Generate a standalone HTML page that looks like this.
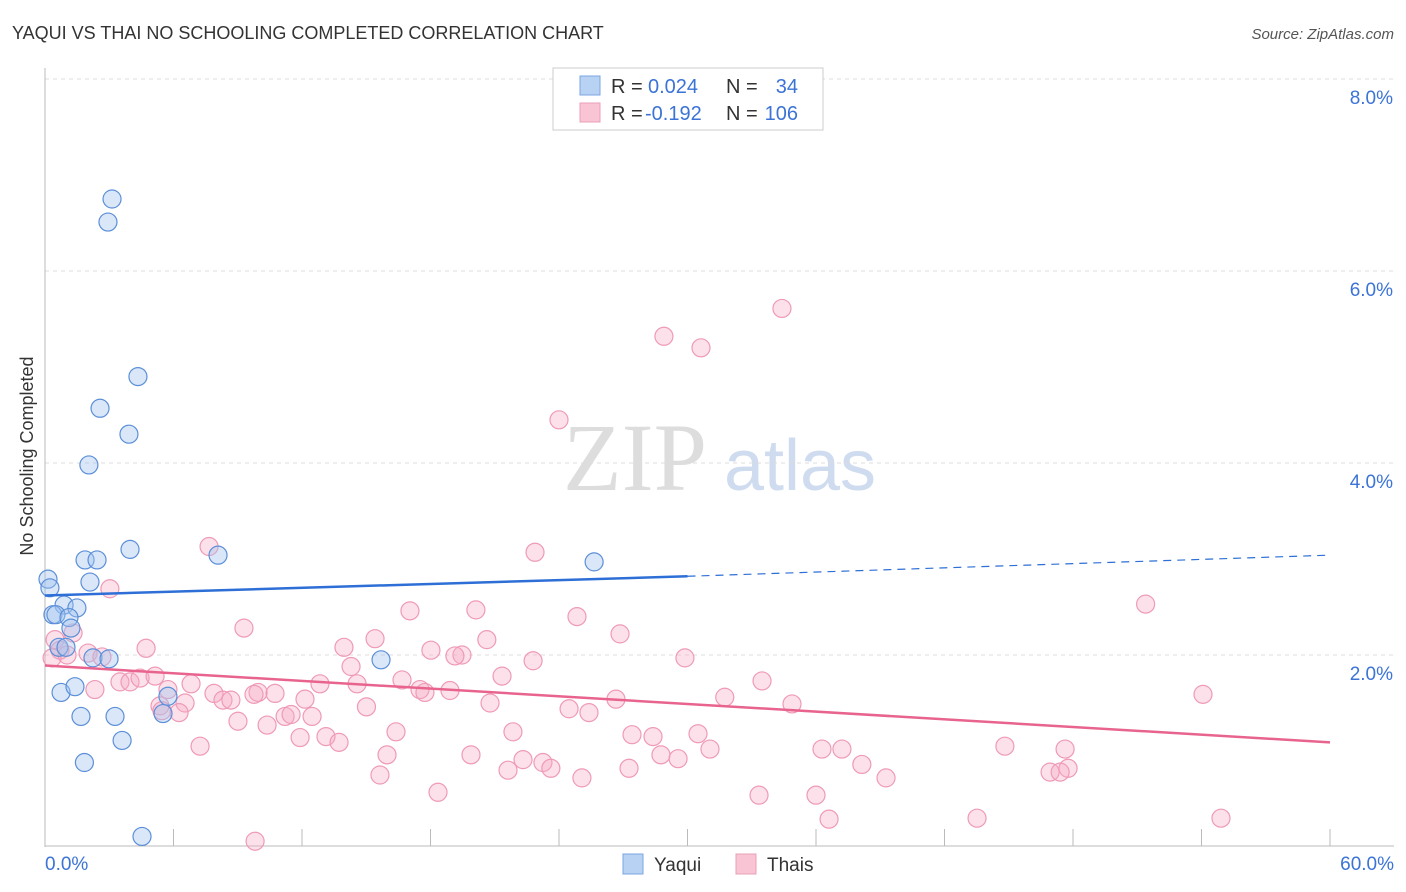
<!DOCTYPE html>
<html><head><meta charset="utf-8">
<style>
body{margin:0;background:#fff;font-family:"Liberation Sans",sans-serif;}
#wrap{position:relative;width:1406px;height:892px;overflow:hidden;}
</style></head>
<body>
<div id="wrap">
<svg id="svg" width="1406" height="892" xmlns="http://www.w3.org/2000/svg">
<text x="12" y="39" font-size="18" fill="#333">YAQUI VS THAI NO SCHOOLING COMPLETED CORRELATION CHART</text>
<text x="1394" y="39" font-size="15" fill="#555" font-style="italic" text-anchor="end">Source: ZipAtlas.com</text>
<text x="33" y="456" font-size="18" fill="#333" text-anchor="middle" transform="rotate(-90 33 456)">No Schooling Completed</text>
<g>
<text x="635" y="490" font-size="96" fill="#ddd" font-family="Liberation Serif,serif" text-anchor="middle">ZIP</text>
<text x="800" y="490" font-size="72" fill="#cfdcf0" text-anchor="middle">atlas</text>
</g>
<g id="grid"></g>
<g id="marks"></g>
<g>
<rect x="553" y="68" width="270" height="62" fill="#fff" stroke="#ccc"/>
<rect x="580" y="76" width="20" height="19" fill="#b8d2f4" stroke="#7aa6e0"/>
<rect x="580" y="103" width="20" height="19" fill="#f9c4d4" stroke="#eba0b8"/>
<text x="611" y="93" font-size="20" fill="#333">R =</text>
<text x="648" y="93" font-size="20" fill="#3b73d6">0.024</text>
<text x="726" y="93" font-size="20" fill="#333">N =</text>
<text x="798" y="93" font-size="20" fill="#3b73d6" text-anchor="end">34</text>
<text x="611" y="120" font-size="20" fill="#333">R =</text>
<text x="645" y="120" font-size="20" fill="#3b73d6">-0.192</text>
<text x="726" y="120" font-size="20" fill="#333">N =</text>
<text x="798" y="120" font-size="20" fill="#3b73d6" text-anchor="end">106</text>
</g>
<g>
<rect x="623" y="854" width="20" height="20" fill="#b8d2f4" stroke="#7aa6e0"/>
<text x="654" y="871" font-size="19" fill="#333">Yaqui</text>
<rect x="736" y="854" width="20" height="20" fill="#f9c4d4" stroke="#eba0b8"/>
<text x="767" y="871" font-size="19" fill="#333">Thais</text>
</g>
</svg>
</div>
<script>
const xTicks=[0,6,12,18,24,30,36,42,48,54,60];
const yTicks=[2,4,6,8];
const yaquiX=[3.13,2.94,4.34,2.57,3.92,2.05,3.97,8.08,1.87,2.43,25.64,0.14,2.10,0.23,0.89,1.49,0.37,0.51,1.12,1.21,0.65,0.98,2.24,2.99,15.69,0.75,1.40,5.74,1.68,3.27,5.51,3.60,1.84,4.53];
const yaquiY=[6.75,6.51,4.90,4.57,4.30,3.98,3.10,3.04,2.99,2.99,2.97,2.79,2.76,2.70,2.52,2.49,2.42,2.42,2.39,2.28,2.08,2.08,1.97,1.96,1.95,1.61,1.67,1.57,1.36,1.36,1.39,1.11,0.88,0.11];
const thaiX=[34.41,28.90,30.63,24.00,7.66,22.88,3.03,51.39,17.04,20.12,24.84,1.31,9.29,26.85,20.63,15.41,13.96,0.47,0.70,0.33,4.72,18.02,19.47,19.14,1.03,2.01,2.66,22.79,29.88,14.29,3.50,3.97,4.44,5.14,6.82,21.34,33.48,16.67,14.57,12.84,2.33,5.74,7.89,9.95,10.74,17.51,18.91,17.74,54.07,31.74,26.66,12.14,5.37,6.54,8.31,8.68,9.76,34.88,20.78,15.01,5.46,6.26,24.47,25.40,9.01,10.37,11.21,11.49,12.47,16.39,21.85,30.49,27.41,28.39,11.91,13.12,13.73,7.24,31.05,36.28,37.21,44.82,47.63,15.97,19.89,28.76,29.56,38.14,22.32,23.25,23.62,21.62,27.27,47.77,46.93,47.40,15.64,25.07,39.27,18.35,36.00,33.34,36.61,54.91,43.52,9.81];
const thaiY=[5.61,5.32,5.20,4.45,3.13,3.07,2.69,2.53,2.46,2.47,2.40,2.23,2.28,2.22,2.16,2.17,2.08,2.16,2.05,1.97,2.07,2.05,2.00,1.99,2.00,2.02,1.98,1.94,1.97,1.88,1.72,1.72,1.76,1.78,1.70,1.78,1.73,1.74,1.70,1.70,1.64,1.64,1.60,1.61,1.60,1.64,1.63,1.61,1.59,1.56,1.54,1.54,1.47,1.50,1.53,1.53,1.59,1.49,1.50,1.46,1.42,1.40,1.44,1.40,1.31,1.27,1.36,1.38,1.36,1.20,1.20,1.18,1.17,1.15,1.14,1.15,1.09,1.05,1.02,1.02,1.02,1.05,1.02,0.96,0.96,0.96,0.92,0.86,0.91,0.88,0.82,0.80,0.82,0.82,0.78,0.78,0.75,0.72,0.72,0.57,0.54,0.54,0.29,0.30,0.30,0.06];
const yaquiTrend=[2.62,2.82,3.04];
const thaiTrend=[1.89,1.09];
const X=v=>45+v/60*1285, Y=v=>847-v*96;
const NS='http://www.w3.org/2000/svg';
function mk(t,a,p){const e=document.createElementNS(NS,t);for(const k in a)e.setAttribute(k,a[k]);p.appendChild(e);return e;}
const grid=document.getElementById('grid'),marks=document.getElementById('marks');
yTicks.forEach(t=>{
const l=mk('line',{x1:45,x2:1394,y1:Y(t),y2:Y(t),stroke:'#ddd','stroke-dasharray':'4,4'},grid);


const tx=mk('text',{x:1393,y:Y(t)+25,'font-size':19,fill:'#3b73d6','text-anchor':'end'},grid);tx.textContent=t.toFixed(1)+'%';


});
mk('line',{x1:45,x2:45,y1:68,y2:847,stroke:'#bbb'},grid);
mk('line',{x1:45,x2:1394,y1:846,y2:846,stroke:'#bbb'},grid);
xTicks.forEach(t=>{
const l=mk('line',{x1:X(t),x2:X(t),y1:829,y2:846,stroke:'#bbb'},grid);


});
[[0,'start',45],[60,'end',1394]].forEach(([v,a,x])=>{const tx=mk('text',{x:x,y:870,'font-size':19,fill:'#3b73d6','text-anchor':a},grid);tx.textContent=v.toFixed(1)+'%';

});
thaiX.forEach((v,i)=>{const c=mk('circle',{cx:X(v),cy:Y(thaiY[i]),r:9,fill:'rgba(246,170,195,0.35)',stroke:'#ef9ab6','stroke-width':1.2},marks);

});
yaquiX.forEach((v,i)=>{const c=mk('circle',{cx:X(v),cy:Y(yaquiY[i]),r:9,fill:'rgba(160,195,240,0.4)',stroke:'#5c8fd8','stroke-width':1.2},marks);

});
let l=mk('line',{x1:X(0),y1:Y(yaquiTrend[0]),x2:X(30),y2:Y(yaquiTrend[1]),stroke:'#2d6fd6','stroke-width':2.5},marks);


l=mk('line',{x1:X(30),y1:Y(yaquiTrend[1]),x2:X(60),y2:Y(yaquiTrend[2]),stroke:'#2d6fd6','stroke-width':1.2,'stroke-dasharray':'8,6'},marks);


l=mk('line',{x1:X(0),y1:Y(thaiTrend[0]),x2:X(60),y2:Y(thaiTrend[1]),stroke:'#e8648f','stroke-width':2.5},marks);


</script>
</body></html>
